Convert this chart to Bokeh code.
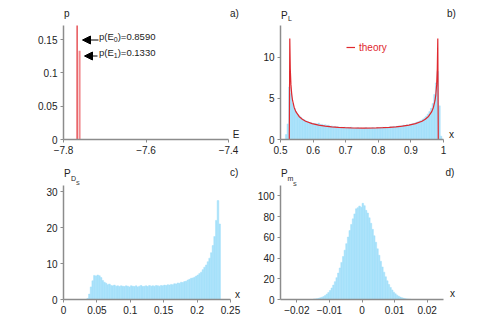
import numpy as np
from bokeh.plotting import figure
from bokeh.models import Range1d, FixedTicker, Label, Arrow, NormalHead, Legend, LegendItem
from bokeh.layouts import row, column
from bokeh.embed import file_html
from bokeh.resources import INLINE

# ---------------- data ----------------
# a) energy levels and their probabilities
E_levels = [-7.767, -7.761]
p_levels = [0.8590, 0.1330]
E_labels = ["0.8590", "0.1330"]

# b) histogram of P_L (bin start / width, heights) + theory curve
b_start, b_width = 0.515, 0.005
b_hist = [0.6, 1.9, 6.4, 5.6, 4.4, 3.8, 3.4, 3.1, 2.9, 2.7, 2.5, 2.4, 2.3, 2.2, 2.1, 2.05,
          2.0, 1.95, 1.95, 1.9, 2.0, 1.8, 1.85, 1.75, 1.8, 1.7, 1.75, 1.6, 1.65, 1.55, 1.6, 1.5,
          1.55, 1.45, 1.5, 1.45, 1.5, 1.4, 1.45, 1.4, 1.5, 1.4, 1.35, 1.4, 1.45, 1.35, 1.4, 1.35,
          1.4, 1.45, 1.35, 1.4, 1.35, 1.45, 1.4, 1.35, 1.45, 1.4, 1.45, 1.5, 1.4, 1.5, 1.45, 1.5,
          1.55, 1.5, 1.6, 1.55, 1.6, 1.65, 1.6, 1.7, 1.75, 1.7, 1.8, 1.75, 1.85, 1.9, 1.95, 2.0,
          2.1, 2.15, 2.25, 2.35, 2.5, 2.65, 2.85, 3.1, 3.4, 3.8, 4.4, 5.5, 6.9, 8.3, 4.1, 0.4]
theory_x = [0.527, 0.5285, 0.530, 0.532, 0.5345, 0.537, 0.542, 0.547, 0.557, 0.567, 0.577,
            0.597, 0.617, 0.637, 0.657, 0.677, 0.697, 0.717, 0.7555, 0.794, 0.814, 0.834,
            0.854, 0.874, 0.894, 0.914, 0.934, 0.944, 0.954, 0.964, 0.969, 0.974, 0.9765,
            0.979, 0.981, 0.9825, 0.984]
theory_y = [0, 12.3, 8.63, 6.69, 5.48, 4.76, 3.91, 3.40, 2.81, 2.46, 2.23,
            1.93, 1.75, 1.63, 1.54, 1.48, 1.44, 1.41, 1.39, 1.41, 1.44, 1.48,
            1.54, 1.63, 1.75, 1.93, 2.23, 2.46, 2.81, 3.40, 3.91, 4.76, 5.48,
            6.69, 8.63, 12.3, 0]

# c) histogram of P_Ds
c_start, c_width = 0.035, 0.0025
c_hist = [0.3, 1.5, 3.5, 5.2, 6.7, 6.5, 6.8, 6.6, 6.1, 5.3, 4.8, 4.5, 4.1, 4.3, 3.9, 3.8,
          4.0, 3.7, 3.8, 3.6, 3.8, 3.7, 3.6, 3.8, 3.7, 3.5, 3.8, 3.7, 3.6, 3.8, 3.5, 3.7,
          3.9, 3.6, 3.7, 3.8, 3.6, 3.9, 3.7, 3.8, 3.7, 3.9, 3.8, 3.7, 3.9, 3.8, 4.0, 3.9,
          4.1, 4.0, 4.2, 4.1, 4.4, 4.3, 4.6, 4.5, 4.8, 4.7, 5.0, 5.1, 5.4, 5.6, 5.9, 6.0,
          6.2, 6.5, 6.8, 7.2, 7.6, 8.3, 9.0, 9.6, 10.5, 11.5, 13.0, 15.0, 17.5, 22.0, 27.5, 21.0]

# d) histogram of P_ms
d_start, d_width = -0.015, 0.0005
d_hist = [0.4, 0.6, 0.8, 1.1, 1.6, 2.2, 2.9, 3.9, 5.2, 6.8,
          8.7, 11.1, 13.9, 17.2, 21.1, 25.5, 30.4, 35.8, 41.5, 47.6,
          53.9, 60.2, 66.5, 72.4, 77.8, 82.6, 87.5, 88.6, 90.2, 89.0,
          92.8, 90.5, 86.0, 83.4, 78.8, 73.5, 67.7, 61.5, 55.2, 48.9,
          42.7, 36.9, 31.4, 26.4, 21.9, 18.0, 14.5, 11.6, 9.2, 7.1,
          5.5, 4.2, 3.1, 2.3, 1.7, 1.2, 0.8, 0.55, 0.4, 0.25]

# ---------------- style ----------------
FONT = "Liberation Sans"
RED = "#e0282e"
PINK = "#f08a8e"
BLUE = "#a6e1fa"
AXC = "#8c8c8c"
TXT = "#222222"


class Panel:
    """figure whose frame is larger than its axis box (so texts fit inside the frame)"""

    def __init__(self, fx, fy, w, h, frame, box, xr, yr, xt, xl, yt, yl):
        fl, ft, fr, fb = frame          # frame edges, page px
        L, T, R, B = box                # axis box, page px
        self.box, self.xr, self.yr = box, xr, yr
        x_end = xr[0] + (fr - L) / (R - L) * (xr[1] - xr[0])
        y_end = yr[0] + (B - ft) / (B - T) * (yr[1] - yr[0])
        p = figure(width=w, height=h, output_backend="svg", toolbar_location=None,
                   x_range=Range1d(xr[0], x_end), y_range=Range1d(yr[0], y_end),
                   min_border_left=fl - fx, min_border_right=fx + w - fr,
                   min_border_top=ft - fy, min_border_bottom=fy + h - fb)
        p.outline_line_color = None
        p.xgrid.visible = False
        p.ygrid.visible = False
        p.background_fill_color = "white"
        p.border_fill_color = "white"
        for ax, ticks, labs, bnd in ((p.xaxis[0], xt, xl, xr), (p.yaxis[0], yt, yl, yr)):
            ax.ticker = FixedTicker(ticks=ticks)
            ax.major_label_overrides = dict(zip(ticks, labs))
            ax.bounds = bnd
            ax.axis_line_color = AXC
            ax.axis_line_width = 1.5
            ax.major_tick_line_color = AXC
            ax.major_tick_out = 3
            ax.major_tick_in = 0
            ax.minor_tick_line_color = None
            ax.major_label_text_font = FONT
            ax.major_label_text_font_size = "10px"
            ax.major_label_text_color = TXT
            ax.major_label_standoff = 3
        self.p = p

    def data(self, px, py):
        L, T, R, B = self.box
        x = self.xr[0] + (px - L) / (R - L) * (self.xr[1] - self.xr[0])
        y = self.yr[0] + (B - py) / (B - T) * (self.yr[1] - self.yr[0])
        return x, y

    def text(self, px, py, text, size, color=TXT, align="left"):
        # py is the text baseline; anchor the label at the middle of the cap height
        x, y = self.data(px, py - 0.36 * size)
        self.p.add_layout(Label(x=x, y=y, text=text, text_font=FONT, text_font_size=f"{size}px",
                                text_color=color, text_align=align, text_baseline="middle"))

    def hist(self, start, width, vals):
        left = start + width * np.arange(len(vals))
        self.p.quad(left=left, right=left + width, bottom=0, top=vals,
                    fill_color=BLUE, line_color=BLUE, line_width=0.5)


# ---------------- panel a ----------------
A = Panel(0, 0, 250, 164, (63, 5, 248, 139), (63, 25, 228, 139), (-7.8, -7.4), (0, 0.171),
          [-7.8, -7.6, -7.4], ["\u22127.8", "\u22127.6", "\u22127.4"],
          [0, 0.05, 0.1, 0.15], ["0", "0.05", "0.1", "0.15"])
pa = A.p
ytop = A.yr[1]
pa.segment(x0=E_levels[0], y0=0, x1=E_levels[0], y1=min(p_levels[0], ytop), line_color=RED, line_width=1.2)
pa.segment(x0=E_levels[1], y0=0, x1=E_levels[1], y1=min(p_levels[1], ytop), line_color=PINK, line_width=2)
A.text(63.5, 16.5, "p", 10)
A.text(234, 17, "a)", 10, align="center")
A.text(235.5, 138, "E", 10, align="center")
for i, (py, tx0, tipx) in enumerate(((39.5, 98, 82), (55.5, 97, 84))):
    xs, ys = A.data(tx0, py)
    xe, ye = A.data(tipx, py)
    pa.add_layout(Arrow(end=NormalHead(size=8, fill_color="black", line_color="black"),
                        x_start=xs, y_start=ys, x_end=xe, y_end=ye,
                        line_color="black", line_width=1))
    lx = 98.5
    A.text(lx, py, "p(E", 9.5)
    A.text(lx + 14.8, py + 2.3, str(i), 7)
    A.text(lx + 14.8 + 3.9, py, ")=" + E_labels[i], 9.5)

# ---------------- panel b ----------------
Bp = Panel(250, 0, 236, 164, (280, 5, 484, 139), (280, 25, 443, 139), (0.5, 1.0), (0, 13.9),
           [0.5, 0.6, 0.7, 0.8, 0.9, 1], ["0.5", "0.6", "0.7", "0.8", "0.9", "1"],
           [0, 5, 10], ["0", "5", "10"])
pb = Bp.p
Bp.hist(b_start, b_width, b_hist)
th = pb.line(theory_x, theory_y, line_color=RED, line_width=1.2)
leg = Legend(items=[LegendItem(label="theory", renderers=[th])], location=(66, 86),
             border_line_color=None, background_fill_alpha=0, padding=0, margin=0, spacing=0,
             glyph_width=9, glyph_height=10, label_height=12, label_standoff=4,
             label_text_font=FONT, label_text_font_size="10px", label_text_color=RED)
pb.add_layout(leg, "center")
Bp.text(280.5, 18.5, "P", 10)
Bp.text(287.5, 20.5, "L", 7)
Bp.text(451, 17, "b)", 10, align="center")
Bp.text(451, 137.5, "x", 10, align="center")

# ---------------- panel c ----------------
C = Panel(0, 164, 250, 166, (63, 165, 248, 299), (63, 185, 230, 299), (0, 0.25), (0, 31.7),
          [0, 0.05, 0.1, 0.15, 0.2, 0.25], ["0", "0.05", "0.1", "0.15", "0.2", "0.25"],
          [0, 10, 20, 30], ["0", "10", "20", "30"])
C.hist(c_start, c_width, c_hist)
C.text(63.5, 176.5, "P", 10)
C.text(70.5, 181, "D", 7)
C.text(75.5, 184.5, "S", 5.5)
C.text(233.7, 175.5, "c)", 10, align="center")
C.text(237, 297.5, "x", 10, align="center")

# ---------------- panel d ----------------
D = Panel(250, 164, 236, 166, (280, 165, 484, 299), (280, 185, 443, 299), (-0.025, 0.025), (0, 110),
          [-0.02, -0.01, 0, 0.01, 0.02], ["\u22120.02", "\u22120.01", "0", "0.01", "0.02"],
          [0, 20, 40, 60, 80, 100], ["0", "20", "40", "60", "80", "100"])
D.hist(d_start, d_width, d_hist)
D.text(280.5, 176.5, "P", 10)
D.text(287, 180.5, "m", 7)
D.text(292.5, 185, "S", 5.5)
D.text(449.5, 175.5, "d)", 10, align="center")
D.text(452, 297, "x", 10, align="center")

layout = column(row(A.p, Bp.p), row(C.p, D.p))
open("out.html", "w").write(file_html(layout, INLINE))
